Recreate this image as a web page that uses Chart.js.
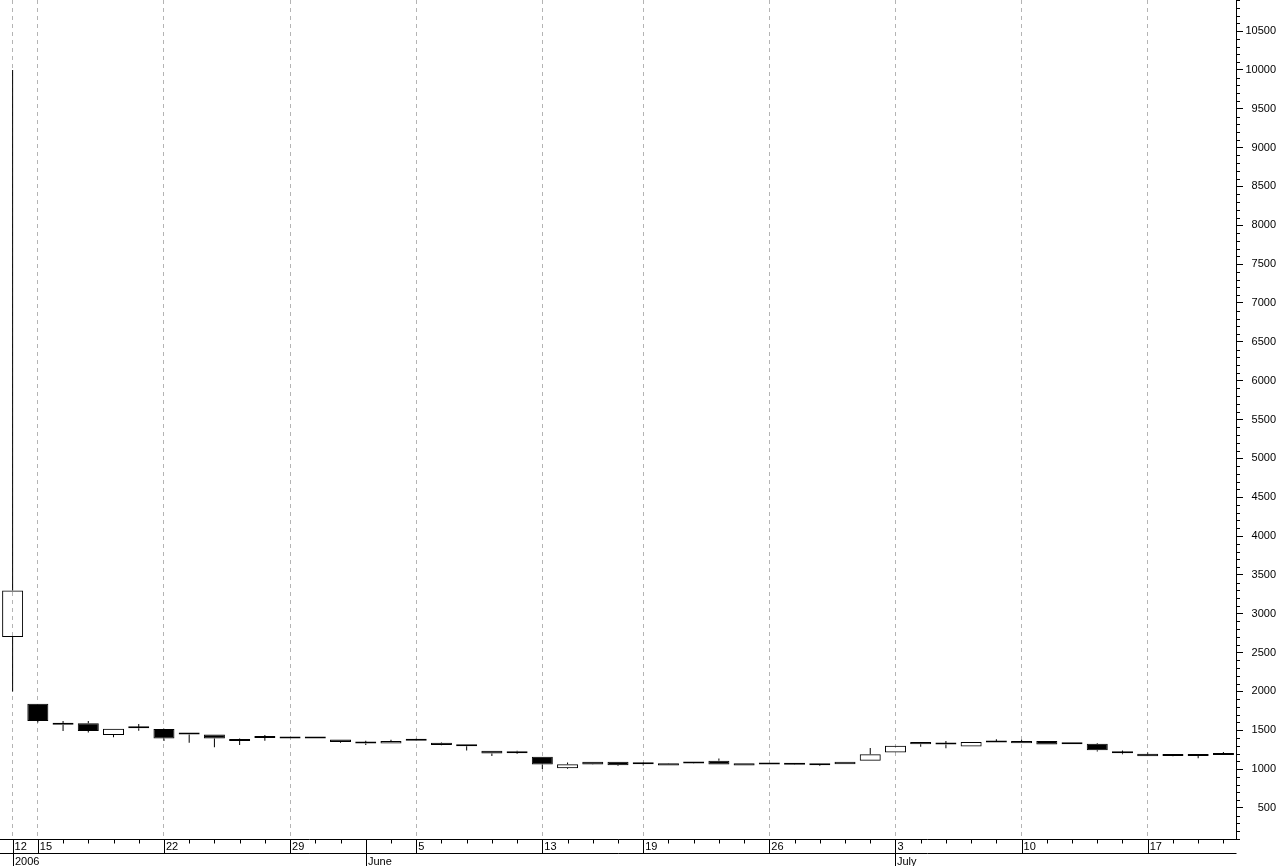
<!DOCTYPE html>
<html>
<head>
<meta charset="utf-8">
<title>Daily candles May-July 2006</title>
<script src="https://cdn.jsdelivr.net/npm/chart.js@4.4.1/dist/chart.umd.min.js"></script>
<style>
  html, body { margin: 0; padding: 0; background: #fff; }
  canvas { display: block; }
</style>
</head>
<body>
<canvas id="candles" width="1280" height="866"></canvas>
<script>
// trading days shown on the x axis
const dates = [
  '2006-05-12',
  '2006-05-15', '2006-05-16', '2006-05-17', '2006-05-18', '2006-05-19',
  '2006-05-22', '2006-05-23', '2006-05-24', '2006-05-25', '2006-05-26',
  '2006-05-29', '2006-05-30', '2006-05-31', '2006-06-01', '2006-06-02',
  '2006-06-05', '2006-06-06', '2006-06-07', '2006-06-08', '2006-06-09',
  '2006-06-13', '2006-06-14', '2006-06-15', '2006-06-16',
  '2006-06-19', '2006-06-20', '2006-06-21', '2006-06-22', '2006-06-23',
  '2006-06-26', '2006-06-27', '2006-06-28', '2006-06-29', '2006-06-30',
  '2006-07-03', '2006-07-04', '2006-07-05', '2006-07-06', '2006-07-07',
  '2006-07-10', '2006-07-11', '2006-07-12', '2006-07-13', '2006-07-14',
  '2006-07-17', '2006-07-18', '2006-07-19', '2006-07-20'
];

const opens  = [2700, 1840, 1580, 1590, 1440, 1530, 1515, 1455, 1445, 1365, 1405, 1415, 1415, 1380, 1335, 1330,
                1385, 1340, 1320, 1235, 1225, 1160, 1012, 1093, 1093, 1065, 1045, 1089, 1106, 1045, 1076, 1058,
                1067, 1063, 1106, 1213, 1321, 1337, 1290, 1363, 1333, 1363, 1337, 1325, 1221, 1196, 1187, 1172, 1180];
const highs  = [10000, 1840, 1620, 1620, 1520, 1580, 1520, 1455, 1445, 1395, 1440, 1415, 1415, 1380, 1365, 1378,
                1390, 1345, 1320, 1235, 1235, 1160, 1085, 1095, 1093, 1080, 1078, 1090, 1135, 1076, 1076, 1058,
                1067, 1093, 1270, 1300, 1350, 1363, 1350, 1385, 1378, 1363, 1337, 1337, 1238, 1213, 1187, 1172, 1221];
const lows   = [2000, 1600, 1490, 1470, 1410, 1495, 1360, 1340, 1280, 1310, 1365, 1395, 1395, 1340, 1310, 1330,
                1363, 1308, 1240, 1170, 1195, 1000, 1000, 1055, 1040, 1045, 1045, 1070, 1058, 1045, 1058, 1052,
                1040, 1063, 1106, 1213, 1286, 1269, 1290, 1341, 1333, 1316, 1321, 1225, 1192, 1166, 1166, 1140, 1180];
const closes = [3300, 1620, 1570, 1490, 1520, 1525, 1395, 1445, 1395, 1360, 1400, 1395, 1395, 1350, 1330, 1362,
                1365, 1310, 1295, 1200, 1205, 1060, 1063, 1058, 1048, 1062, 1076, 1072, 1058, 1076, 1060, 1055,
                1050, 1093, 1192, 1299, 1350, 1316, 1350, 1341, 1363, 1316, 1321, 1243, 1205, 1166, 1168, 1168, 1185];

// price axis: labelled ticks and the small unlabelled ones between them
const yTicks = [500, 1000, 1500, 2000, 2500, 3000, 3500, 4000, 4500, 5000, 5500,
                6000, 6500, 7000, 7500, 8000, 8500, 9000, 9500, 10000, 10500];
const yMin = 100;
const yMax = 10900;
const yMinorStep = 100;
const monthNames = ['January', 'February', 'March', 'April', 'May', 'June',
                    'July', 'August', 'September', 'October', 'November', 'December'];

// first trading day of each week / month get the long ticks and labels
const parsed = dates.map(d => new Date(d + 'T00:00:00Z'));
const weekStart = parsed.map((d, i) => i === 0 || d.getUTCDay() <= parsed[i - 1].getUTCDay());
const monthStart = parsed.map((d, i) => i === 0 || d.getUTCMonth() !== parsed[i - 1].getUTCMonth());
const monthLabels = parsed.map((d, i) => i === 0 ? String(d.getUTCFullYear()) : monthNames[d.getUTCMonth()]);

const bodies = opens.map((o, i) => [o, closes[i]]);
const upperWicks = highs.map((h, i) => [Math.max(opens[i], closes[i]), h]);
const lowerWicks = lows.map((l, i) => [l, Math.min(opens[i], closes[i])]);
const bodyFill = opens.map((o, i) => closes[i] >= o ? 'rgba(0,0,0,0)' : '#000');

const FONT = '"Liberation Sans", Arial, sans-serif';

// second row of the date axis (months) plus the small tick marks
const dateStrip = {
  id: 'dateStrip',
  afterDraw(chart) {
    const { ctx, chartArea, scales: { x, y } } = chart;
    const top = Math.round(chartArea.bottom) + 0.5;
    const mid = top + 14;
    const bottom = chart.height;
    ctx.save();
    ctx.strokeStyle = '#000';
    ctx.lineWidth = 1;
    ctx.beginPath();
    ctx.moveTo(0, mid);
    ctx.lineTo(Math.round(chartArea.right) + 0.5, mid);
    dates.forEach((d, i) => {
      const px = Math.round(x.getPixelForValue(i)) + 0.5;
      ctx.moveTo(px, top);
      if (monthStart[i]) ctx.lineTo(px, bottom);
      else if (weekStart[i]) ctx.lineTo(px, mid);
      else ctx.lineTo(px, top + 4);
    });
    const ax = Math.round(chartArea.right);
    for (let v = yMin; v <= yMax; v += yMinorStep) {
      if (yTicks.includes(v)) continue;
      const py = Math.round(y.getPixelForValue(v)) + 0.5;
      ctx.moveTo(ax, py);
      ctx.lineTo(ax + 4, py);
    }
    ctx.stroke();

    ctx.fillStyle = '#000';
    ctx.font = '11px ' + FONT;
    ctx.textAlign = 'left';
    ctx.textBaseline = 'alphabetic';
    dates.forEach((d, i) => {
      if (!monthStart[i]) return;
      const px = Math.round(x.getPixelForValue(i));
      ctx.fillText(monthLabels[i], px + 2, mid + 11);
    });
    ctx.restore();
  }
};

new Chart(document.getElementById('candles'), {
  type: 'bar',
  data: {
    labels: dates,
    datasets: [
      {
        label: 'lower wick',
        data: lowerWicks,
        backgroundColor: '#000',
        borderWidth: 0,
        barThickness: 1,
        inflateAmount: 0,
        grouped: false,
        order: 3
      },
      {
        label: 'upper wick',
        data: upperWicks,
        backgroundColor: '#000',
        borderWidth: 0,
        barThickness: 1,
        inflateAmount: 0,
        grouped: false,
        order: 2
      },
      {
        label: 'body',
        data: bodies,
        backgroundColor: bodyFill,
        borderColor: '#000',
        borderWidth: 1,
        borderSkipped: false,
        barThickness: 21,
        minBarLength: 2,
        inflateAmount: 0,
        grouped: false,
        order: 1
      }
    ]
  },
  options: {
    responsive: false,
    animation: false,
    layout: { padding: { left: 0, top: 0, bottom: 0, right: 4 } },
    plugins: {
      legend: { display: false },
      tooltip: { enabled: false }
    },
    scales: {
      x: {
        type: 'category',
        offset: true,
        grid: {
          offset: false,
          drawTicks: false,
          lineWidth: 1,
          color: (c) => weekStart[c.index] ? '#b4b4b4' : 'rgba(0,0,0,0)'
        },
        border: { display: true, color: '#000', width: 1, dash: [4, 4] },
        ticks: {
          autoSkip: false,
          maxRotation: 0,
          align: 'start',
          labelOffset: 2,
          padding: 1,
          color: '#000',
          font: { family: FONT, size: 11 },
          callback: (value, index) => weekStart[index] ? String(parsed[index].getUTCDate()) : ''
        },
        afterFit: (scale) => {
          scale.height = 27;
          scale.paddingLeft = 0;
          scale.paddingRight = 0;
        }
      },
      y: {
        position: 'right',
        min: yMin,
        max: yMax,
        grid: {
          drawOnChartArea: false,
          drawTicks: true,
          tickLength: 7,
          tickColor: '#000'
        },
        border: { display: true, color: '#000', width: 1 },
        ticks: {
          autoSkip: false,
          crossAlign: 'far',
          padding: 3,
          color: '#000',
          font: { family: FONT, size: 11 },
          callback: (value) => String(value)
        },
        afterBuildTicks: (scale) => {
          scale.ticks = yTicks.map(v => ({ value: v }));
        },
        afterFit: (scale) => {
          scale.width = 40;
          scale.paddingTop = 0;
          scale.paddingBottom = 0;
        }
      }
    }
  },
  plugins: [dateStrip]
});
</script>
</body>
</html>
